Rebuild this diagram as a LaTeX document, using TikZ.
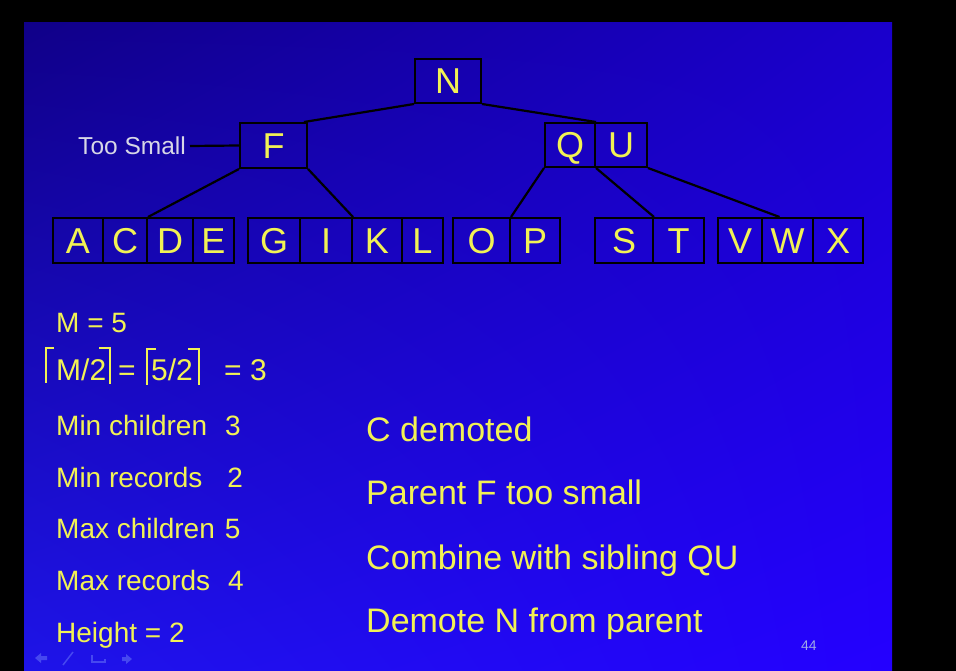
\documentclass[tikz,border=0pt]{standalone}
\usepackage{fontspec}
\setmainfont{Liberation Sans}
\usetikzlibrary{calc,shadings}
\definecolor{ylw}{RGB}{242,242,84}
\definecolor{bgUL}{RGB}{16,0,136}
\definecolor{bgUR}{RGB}{26,0,204}
\definecolor{bgLL}{RGB}{30,20,232}
\definecolor{bgLR}{RGB}{36,0,255}
\definecolor{navc}{RGB}{70,72,240}
\definecolor{tsc}{RGB}{215,215,230}
\definecolor{pgc}{RGB}{160,170,230}
\tikzset{
  cell/.style={draw=black, line width=2pt, inner sep=0pt, minimum height=45pt,
    text=ylw, font=\fontsize{36}{36}\selectfont, text height=25.8pt, text depth=0pt},
  link/.style={draw=black, line width=2.2pt},
  lefttxt/.style={anchor=base west, inner sep=0pt, text=ylw, font=\fontsize{28}{28}\selectfont},
  righttxt/.style={anchor=base west, inner sep=0pt, text=ylw, font=\fontsize{34}{34}\selectfont},
  ceil/.style={draw=ylw, line width=2pt},
  nav/.style={navc}
}
\begin{document}
\begin{tikzpicture}[x=1pt,y=-1pt]
\useasboundingbox (0,0) rectangle (956,671);
\fill[black] (0,0) rectangle (956,671);
\shade[upper left=bgUL, upper right=bgUR, lower left=bgLL, lower right=bgLR] (24,23) rectangle (892,671);

% internal nodes
\node[cell, minimum width=66pt, minimum height=44pt] (N) at (448,81) {N};
\node[cell, minimum width=67pt] (F) at (273.5,145.5) {F};
\node[cell, minimum width=50pt, minimum height=44pt] (Q) at (570,145) {Q};
\node[cell, minimum width=52pt, minimum height=44pt] (U) at (621,145) {U};

% leaves
\node[cell, minimum width=50pt] (A) at (78,240.5) {A};
\node[cell, minimum width=44pt] (C) at (125,240.5) {C};
\node[cell, minimum width=46pt] (D) at (170,240.5) {D};
\node[cell, minimum width=41pt] (E) at (213.5,240.5) {E};
\node[cell, minimum width=52pt] (G) at (274,240.5) {G};
\node[cell, minimum width=52pt] (I) at (326,240.5) {I};
\node[cell, minimum width=50pt] (K) at (377,240.5) {K};
\node[cell, minimum width=41pt] (L) at (422.5,240.5) {L};
\node[cell, minimum width=57pt] (O) at (481.5,240.5) {O};
\node[cell, minimum width=50pt] (P) at (535,240.5) {P};
\node[cell, minimum width=58pt] (S) at (624,240.5) {S};
\node[cell, minimum width=51pt] (T) at (678.5,240.5) {T};
\node[cell, minimum width=44pt] (V) at (740,240.5) {V};
\node[cell, minimum width=51pt] (W) at (787.5,240.5) {W};
\node[cell, minimum width=50pt] (X) at (838,240.5) {X};

% connectors
\draw[link] (N.south west) -- ($(F.north east)+(-4,0)$);
\draw[link] (N.south east) -- (Q.north east);
\draw[link] (F.south west) -- (C.north east);
\draw[link] (F.south east) -- (I.north east);
\draw[link] (Q.south west) -- (O.north east);
\draw[link] (Q.south east) -- (S.north east);
\coordinate (Wtop) at ($(W.north west)!0.35!(W.north east)$);
\draw[link] (U.south east) -- (Wtop);

% too small label
\node[anchor=east, inner sep=0pt, text=tsc, font=\fontsize{24.5}{24.5}\selectfont] (TS) at (186,146) {Too Small};
\draw[link] ($(TS.east)+(4,0)$) -- (F.west);

% left column
\node[lefttxt] (m5) at (56,332) {M = 5};
\node[lefttxt, font=\fontsize{30}{30}\selectfont] (m2) at (56,380) {M/2};
\node[lefttxt, font=\fontsize{30}{30}\selectfont] (eq1) at (118,380) {=};
\node[lefttxt, font=\fontsize{30}{30}\selectfont] (f2) at (151,380) {5/2};
\node[lefttxt, font=\fontsize{30}{30}\selectfont] (eq3) at (224,380) {= 3};
\draw[ceil] (54,348) -- (46,348) -- (46,383);
\draw[ceil] (99,348) -- (110,348) -- (110,384);
\draw[ceil] (156,349) -- (147,349) -- (147,385);
\draw[ceil] (188,349) -- (199,349) -- (199,385);

\node[lefttxt] (minc) at (56,435) {Min children\hspace{18pt}3};
\node[lefttxt] (minr) at (56,487) {Min records\hspace{25pt}2};
\node[lefttxt] (maxc) at (56,538) {Max children\hspace{10pt}5};
\node[lefttxt] (maxr) at (56,590) {Max records\hspace{18pt}4};
\node[lefttxt] (ht) at (56,642) {Height = 2};

% right column
\node[righttxt] (r1) at (366,441) {C demoted};
\node[righttxt] (r2) at (366,504) {Parent F too small};
\node[righttxt] (r3) at (366,569) {Combine with sibling QU};
\node[righttxt] (r4) at (366,632) {Demote N from parent};

% page number
\node[anchor=base west, inner sep=0pt, text=pgc, font=\fontsize{14}{14}\selectfont] (pg) at (801,650) {44};

% navigation icons
\fill[nav] (35,658) -- (41,653) -- (41,656) -- (47,656) -- (47,660) -- (41,660) -- (41,663) -- cycle;
\draw[nav, line width=1.5pt] (73,652) -- (63,665);
\draw[nav, line width=1.5pt] (92,655) -- (92,662) -- (105,662) -- (105,659);
\fill[nav] (132,659) -- (126,654) -- (126,657) -- (122,657) -- (122,661) -- (126,661) -- (126,664) -- cycle;
\end{tikzpicture}
\end{document}
